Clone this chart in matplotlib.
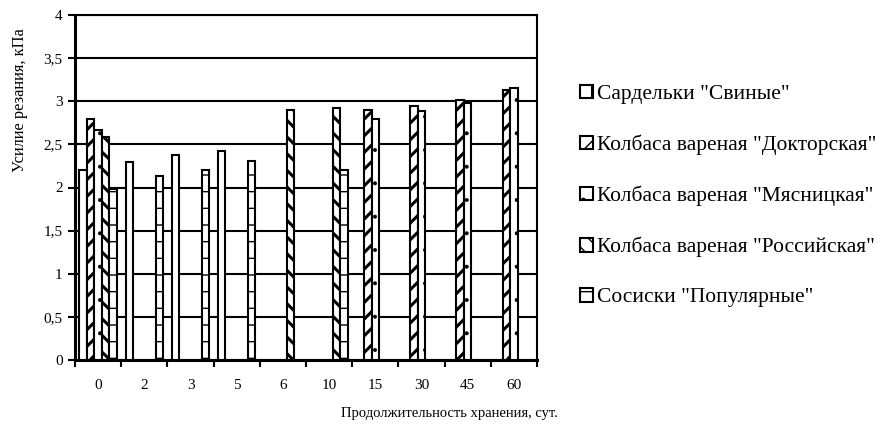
import numpy as np
import matplotlib
matplotlib.use("Agg")
import matplotlib.pyplot as plt
from matplotlib.patches import Patch
from matplotlib.ticker import FixedLocator, FuncFormatter

nan = np.nan

days = ['0', '2', '3', '5', '6', '10', '15', '30', '45', '60']

sardelki_svinye = [2.20, 2.30, 2.38, 2.42, nan, nan, nan, nan, nan, nan]
doktorskaya = [2.80, nan, nan, nan, nan, nan, 2.90, 2.95, 3.02, 3.13]
myasnitskaya = [2.67, nan, nan, nan, nan, nan, 2.80, 2.89, 2.98, 3.15]
rossiyskaya = [2.58, nan, nan, nan, 2.90, 2.92, nan, nan, nan, nan]
sosiski_populyarnye = [1.98, 2.13, 2.20, 2.31, nan, 2.20, nan, nan, nan, nan]

names = ['Сардельки "Свиные"',
         'Колбаса вареная "Докторская"',
         'Колбаса вареная "Мясницкая"',
         'Колбаса вареная "Российская"',
         'Сосиски "Популярные"']
series = [sardelki_svinye, doktorskaya, myasnitskaya, rossiyskaya,
          sosiski_populyarnye]
# bar hatch, legend hatch, hatch line width
bar_hatches = ['', '//', '.', '\\\\', '-']
key_hatches = ['|', '//', '.', '\\\\', '-']
hatch_lw = [1.0, 2.2, 0.4, 2.2, 1.0]

plt.rcParams['font.family'] = ['Liberation Serif', 'DejaVu Serif']

fig = plt.figure(figsize=(8.79, 4.25), dpi=100)
ax = fig.add_axes([75 / 879, 1 - 360 / 425, 462 / 879, 345 / 425])

x = np.arange(len(days))
w = 0.162
handles = []
for j in range(len(series)):
    plt.rcParams['hatch.linewidth'] = hatch_lw[j]
    ax.bar(x + (j - 2) * w, series[j], width=w, facecolor='white',
           edgecolor='black', linewidth=1.5, hatch=bar_hatches[j], zorder=3)
    handles.append(Patch(facecolor='white', edgecolor='black',
                         linewidth=1.5, hatch=key_hatches[j],
                         label=names[j]))

ax.set_xlim(-0.5, len(days) - 0.5)
ax.set_ylim(0, 4)
ax.yaxis.set_major_locator(FixedLocator(np.arange(0, 4.01, 0.5)))
ax.yaxis.set_major_formatter(
    FuncFormatter(lambda v, p: ('%g' % v).replace('.', ',')))
ax.grid(axis='y', color='black', linewidth=1.5, zorder=1)

# ticks sit between the day groups, labels at the group centres
ax.set_xticks(np.arange(-0.5, len(days), 1.0))
ax.set_xticklabels([])
ax.set_xticks(x, minor=True)
ax.set_xticklabels(days, minor=True)
ax.tick_params(axis='x', which='major', direction='out', length=5,
               width=1.5, color='black')
ax.tick_params(axis='x', which='minor', length=0, pad=14, labelsize=11)
ax.tick_params(axis='y', direction='out', length=5, width=1.5,
               labelsize=11, pad=4)

for s in ax.spines.values():
    s.set_linewidth(1.5)
ax.spines['left'].set_linewidth(2.2)
ax.spines['bottom'].set_linewidth(2.2)

fig.text(20 / 879, 1 - 100 / 425, 'Усилие резания, кПа', rotation=90,
         ha='center', va='center', fontsize=11.8)
fig.text(449 / 879, 1 - 413 / 425, 'Продолжительность хранения, сут.',
         ha='center', va='center', fontsize=10.5)

fig.legend(handles=handles, loc='center left',
           bbox_to_anchor=(569 / 879, 1 - 196 / 425), frameon=False,
           fontsize=15.5, handlelength=0.6, handleheight=0.6,
           handletextpad=0.2, labelspacing=1.42, borderpad=0)

fig.savefig('out.png', dpi=100)
